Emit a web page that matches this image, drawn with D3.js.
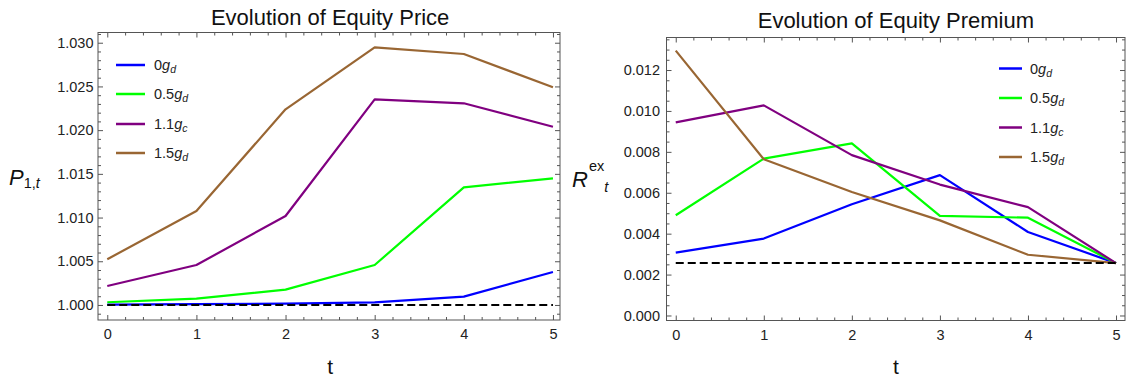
<!DOCTYPE html>
<html>
<head>
<meta charset="utf-8">
<script src="https://cdn.jsdelivr.net/npm/d3@7"></script>
<style>
  body { margin: 0; background: #fff; }
  svg { display: block; font-family: "Liberation Sans", Arial, sans-serif; }
</style>
</head>
<body>
<div id="chart"></div>
<script>
//************************* Data

const periods = [0, 1, 2, 3, 4, 5]

// legend labels: coefficient, italic g, subscript
const seriesCoef = ["0", "0.5", "1.1", "1.5"]
const seriesSub = ["d", "d", "c", "d"]
const seriesColors = ["#0000ff", "#00ff00", "#800080", "#996633"]

// Evolution of Equity Price
const priceZero = [1.00005, 1.0001, 1.00015, 1.0003, 1.00095, 1.00377]
const priceHalf = [1.00031, 1.00072, 1.00175, 1.00457, 1.01346, 1.01449]
const priceOneOne = [1.00217, 1.00457, 1.01018, 1.02352, 1.02307, 1.02039]
const priceOneHalf = [1.00523, 1.01075, 1.02238, 1.02947, 1.02871, 1.0249]
const priceBaseline = 1.0
const priceTicks = [1.000, 1.005, 1.010, 1.015, 1.020, 1.025, 1.030]

// Evolution of Equity Premium
const premiumZero = [0.00307, 0.00376, 0.00544, 0.00686, 0.00408, 0.00256]
const premiumHalf = [0.0049, 0.00767, 0.00841, 0.00487, 0.00478, 0.00256]
const premiumOneOne = [0.00944, 0.01027, 0.00784, 0.0064, 0.0053, 0.00256]
const premiumOneHalf = [0.01295, 0.00764, 0.00604, 0.00465, 0.00297, 0.00256]
const premiumBaseline = 0.00256
const premiumTicks = [0.000, 0.002, 0.004, 0.006, 0.008, 0.010, 0.012]

function draw() {

//************************* Dimensions

    const width = 1131
    const height = 378

    const panels = [
        {
            title: "Evolution of Equity Price",
            titleY: 24.5,
            frame: { left: 98, right: 560, top: 32.5, bottom: 320 },
            xDomain: [-0.104, 5.079],
            yDomain: [0.99828, 1.03117],
            yTicks: priceTicks,
            yMinorStep: 0.001,
            labelPad: 4.5,
            series: [priceZero, priceHalf, priceOneOne, priceOneHalf],
            baseline: priceBaseline,
            legend: { x1: 116, x2: 145, text: 154, y: [65, 94, 124, 153] }
        },
        {
            title: "Evolution of Equity Premium",
            titleY: 28,
            frame: { left: 666.5, right: 1125, top: 37.5, bottom: 320.5 },
            xDomain: [-0.105, 5.102],
            yDomain: [-0.000245, 0.01359],
            yTicks: premiumTicks,
            yMinorStep: 0.0005,
            labelPad: 6.5,
            series: [premiumZero, premiumHalf, premiumOneOne, premiumOneHalf],
            baseline: premiumBaseline,
            legend: { x1: 999, x2: 1022, text: 1030, y: [68.5, 98, 127.5, 157] }
        }
    ]

//************************* Wrapper

    const svg = d3.select("#chart")
        .append("svg")
        .attr("width", width)
        .attr("height", height)

    panels.forEach(p => {
        const f = p.frame
        const g = svg.append("g")

//------------------ Scales
        const xScale = d3.scaleLinear()
            .domain(p.xDomain)
            .range([f.left, f.right])

        const yScale = d3.scaleLinear()
            .domain(p.yDomain)
            .range([f.bottom, f.top])

        const xMinor = d3.range(0, 5.01, 0.2).filter(v => Math.abs(v - Math.round(v)) > 1e-6)
        const yMinor = d3.range(Math.ceil(p.yDomain[0] / p.yMinorStep), Math.floor(p.yDomain[1] / p.yMinorStep) + 1)
            .map(k => +(k * p.yMinorStep).toFixed(5))
            .filter(v => !p.yTicks.some(t => Math.abs(t - v) < 1e-7))

//------------------ Frame ticks (inward, Mathematica style)
        const addAxis = (gen, tx, ty, values, size, fmt) => {
            const a = g.append("g")
                .attr("transform", `translate(${tx},${ty})`)
                .call(gen.tickValues(values).tickSize(-size).tickFormat(fmt))
            a.select(".domain").remove()
            a.selectAll("line").attr("stroke", "#555").attr("stroke-width", 1)
            a.selectAll("text").attr("fill", "#222").style("font-size", "14.5px")
                .style("font-family", "Liberation Sans, Arial, sans-serif")
            return a
        }

        addAxis(d3.axisBottom(xScale).tickPadding(9), 0, f.bottom, periods, 5, d3.format("d"))
        addAxis(d3.axisBottom(xScale), 0, f.bottom, xMinor, 3, "")
        addAxis(d3.axisTop(xScale), 0, f.top, periods, 5, "")
        addAxis(d3.axisTop(xScale), 0, f.top, xMinor, 3, "")

        addAxis(d3.axisLeft(yScale).tickPadding(p.labelPad), f.left, 0, p.yTicks, 5, d3.format(".3f"))
        addAxis(d3.axisLeft(yScale), f.left, 0, yMinor, 3, "")
        addAxis(d3.axisRight(yScale), f.right, 0, p.yTicks, 5, "")
        addAxis(d3.axisRight(yScale), f.right, 0, yMinor, 3, "")

        g.append("rect")
            .attr("x", f.left)
            .attr("y", f.top)
            .attr("width", f.right - f.left)
            .attr("height", f.bottom - f.top)
            .attr("fill", "none")
            .attr("stroke", "#555")
            .attr("stroke-width", 1)

//------------------ Lines
        const lineGenerator = d3.line()
            .x((d, i) => xScale(periods[i]))
            .y(d => yScale(d))

        g.selectAll(".series")
            .data(p.series)
            .join("path")
            .attr("class", "series")
            .attr("d", d => lineGenerator(d))
            .attr("fill", "none")
            .attr("stroke", (d, i) => seriesColors[i])
            .attr("stroke-width", 2.2)
            .attr("stroke-linejoin", "round")

        g.append("path")
            .attr("d", lineGenerator(periods.map(() => p.baseline)))
            .attr("fill", "none")
            .attr("stroke", "#000")
            .attr("stroke-width", 2)
            .attr("stroke-dasharray", "8,4")

//------------------ Legend
        const legend = g.selectAll(".legend")
            .data(seriesCoef)
            .join("g")
            .attr("class", "legend")

        legend.append("line")
            .attr("x1", p.legend.x1)
            .attr("x2", p.legend.x2)
            .attr("y1", (d, i) => p.legend.y[i])
            .attr("y2", (d, i) => p.legend.y[i])
            .attr("stroke", (d, i) => seriesColors[i])
            .attr("stroke-width", 2.5)

        const label = legend.append("text")
            .attr("x", p.legend.text)
            .attr("y", (d, i) => p.legend.y[i] + 5)
            .attr("fill", "#222")
            .style("font-size", "14.5px")
        label.append("tspan").text(d => d)
        label.append("tspan").style("font-style", "italic").text("g")
        label.append("tspan").style("font-style", "italic").style("font-size", "10.5px")
            .attr("dy", 3).text((d, i) => seriesSub[i])

//------------------ Titles
        g.append("text")
            .attr("x", xScale(2.5))
            .attr("y", p.titleY)
            .attr("text-anchor", "middle")
            .style("font-size", "22px")
            .attr("fill", "#111")
            .text(p.title)

        g.append("text")
            .attr("x", xScale(2.5))
            .attr("y", 374)
            .attr("text-anchor", "middle")
            .style("font-size", "21px")
            .attr("fill", "#111")
            .text("t")
    })

//------------------ Y axis labels
    const pLabel = svg.append("text")
        .attr("x", 9)
        .attr("y", 185)
        .attr("fill", "#111")
        .style("font-size", "22px")
    pLabel.append("tspan").style("font-style", "italic").text("P")
    pLabel.append("tspan").attr("dy", 3).style("font-size", "14.5px").text("1,")
    pLabel.append("tspan").style("font-style", "italic").style("font-size", "14.5px").text("t")

    const rLabel = svg.append("text")
        .attr("x", 572)
        .attr("y", 186.5)
        .attr("fill", "#111")
        .style("font-size", "22px")
    rLabel.append("tspan").style("font-style", "italic").text("R")
    rLabel.append("tspan").attr("dy", -16).attr("dx", 1).style("font-size", "14.5px").text("ex")
    rLabel.append("tspan").attr("dy", 21).style("font-style", "italic").style("font-size", "14.5px").text("t")
}

draw()
</script>
</body>
</html>
